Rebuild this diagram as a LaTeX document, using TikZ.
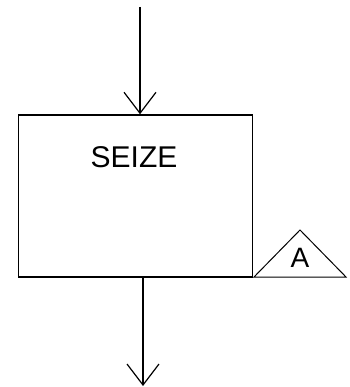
\documentclass[tikz,border=0pt]{standalone}
\usepackage{fontspec}
\setmainfont{Liberation Sans}
\usetikzlibrary{arrows.meta}
\tikzset{
    block/.style={draw, rectangle, line width=1.5pt, minimum width=234pt, minimum height=162pt, inner sep=0},
    flow/.style={line width=1.5pt, -{Straight Barb[length=21pt, width=32pt, line width=1.2pt]}},
    blocktext/.style={font=\fontsize{30}{30}\selectfont}
}
\begin{document}
\begin{tikzpicture}[x=1pt, y=-1pt]
    \useasboundingbox (0,0) rectangle (349,387);
    \node[block] (seize) at (135.5,196) {};
    \node[blocktext] (seizename) at (134,157) {SEIZE};
    \coordinate (in) at (140,7);
    \coordinate (out) at (143,386);
    \coordinate (attl) at (254,277);
    \coordinate (attt) at (300,230);
    \coordinate (attr) at (346,277);
    \draw[line width=1pt, line join=miter] (attl) -- (attt) -- (attr) -- cycle;
    \node[blocktext, font=\fontsize{28}{28}\selectfont] (attname) at (300,258) {A};
    \draw[flow] (in) -- (seize.north -| in);
    \draw[flow] (seize.south -| out) -- (out);
\end{tikzpicture}
\end{document}
